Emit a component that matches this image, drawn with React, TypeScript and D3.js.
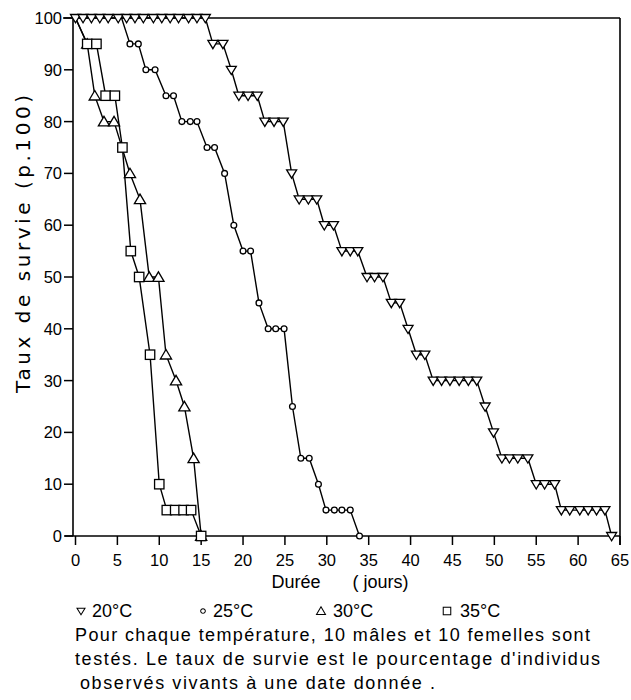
import React from "react";
import * as d3 from "d3";

// ---- data ----
const days20 = [0, 0.9, 1.9, 2.9, 3.9, 5.1, 6.1, 7.1, 8.1, 9.3, 10.3, 11.3, 12.3, 13.5, 14.5, 15.5,
  16.4, 17.6, 18.6, 19.5, 20.6, 21.7, 22.6, 23.7, 24.8, 25.8, 26.7, 27.8, 28.8, 29.7, 30.8,
  31.8, 32.8, 33.7, 34.8, 35.7, 36.7, 37.7, 38.7, 39.7, 40.7, 41.7, 42.7, 43.7, 44.7, 45.8,
  46.9, 47.9, 48.9, 49.9, 50.9, 51.8, 52.8, 54, 55, 56, 57.2, 58, 59, 60.2, 61.2, 62.2, 63.2, 64];
const surv20 = [100, 100, 100, 100, 100, 100, 100, 100, 100, 100, 100, 100, 100, 100, 100, 100,
  95, 95, 90, 85, 85, 85, 80, 80, 80, 70, 65, 65, 65, 60, 60,
  55, 55, 55, 50, 50, 50, 45, 45, 40, 35, 35, 30, 30, 30, 30,
  30, 30, 25, 20, 15, 15, 15, 15, 10, 10, 10, 5, 5, 5, 5, 5, 5, 0];

const days25 = [5.5, 6.5, 7.5, 8.4, 9.5, 10.8, 11.7, 12.7, 13.7, 14.5, 15.7, 16.6, 17.8, 18.9, 20, 20.9,
  21.9, 23, 23.9, 24.9, 25.9, 26.9, 27.9, 29, 29.9, 30.9, 31.8, 32.8, 33.9];
const surv25 = [100, 95, 95, 90, 90, 85, 85, 80, 80, 80, 75, 75, 70, 60, 55, 55,
  45, 40, 40, 40, 25, 15, 15, 10, 5, 5, 5, 5, 0];

const days30 = [0, 1.4, 2.3, 3.4, 4.6, 6.5, 7.7, 8.8, 9.9, 10.8, 12, 13, 14.1, 15];
const surv30 = [100, 95, 85, 80, 80, 70, 65, 50, 50, 35, 30, 25, 15, 0];

const days35 = [0, 1.4, 2.5, 3.6, 4.7, 5.6, 6.6, 7.6, 8.9, 10, 10.9, 11.9, 12.9, 13.8, 15];
const surv35 = [100, 95, 95, 85, 85, 75, 55, 50, 35, 10, 5, 5, 5, 5, 0];

const xTicks = [0, 5, 10, 15, 20, 25, 30, 35, 40, 45, 50, 55, 60, 65];
const yTicks = [0, 10, 20, 30, 40, 50, 60, 70, 80, 90, 100];

const legendLabels = ["20°C", "25°C", "30°C", "35°C"];
const noteLines = [
  "Pour chaque température, 10 mâles et 10 femelles sont",
  "testés.  Le taux de survie est le pourcentage d'individus",
  "observés vivants à une  date  donnée .",
];

// ---- layout ----
const W = 631;
const H = 700;
const FONT = "'Liberation Sans', Arial, sans-serif";

const x = d3.scaleLinear().domain([0, 65]).range([75.5, 620]);
const y = d3.scaleLinear().domain([0, 100]).range([536, 18]);

type Pt = [number, number];
const zip = (a: number[], b: number[]): Pt[] => a.map((d, i) => [d, b[i]]);

const s20 = zip(days20, surv20);
const s25 = zip(days25, surv25);
const s30 = zip(days30, surv30);
const s35 = zip(days35, surv35);

const line = d3.line<Pt>().x((d) => x(d[0])).y((d) => y(d[1]));

const downTri = "M-5,-3.5L5,-3.5L0,4.8Z";
const upTri = "M-5.6,4.3L5.6,4.3L0,-5.2Z";

function Marker({ kind, cx, cy }: { kind: string; cx: number; cy: number }) {
  const st = { fill: "#fff", stroke: "#000", strokeWidth: 1.3 };
  if (kind === "circle") return <circle cx={cx} cy={cy} r={2.9} {...st} />;
  if (kind === "square")
    return <rect x={cx - 4.7} y={cy - 4.7} width={9.4} height={9.4} {...st} />;
  if (kind === "up") return <path d={upTri} transform={`translate(${cx},${cy})`} {...st} />;
  return <path d={downTri} transform={`translate(${cx},${cy})`} {...st} />;
}

export default function App() {
  const series = [
    { data: s25, kind: "circle", skipTop: true },
    { data: s30, kind: "up", skipTop: true },
    { data: s35, kind: "square", skipTop: true },
    { data: s20, kind: "down", skipTop: false },
  ];
  const legendPos = [
    { sx: 81, tx: 92, kind: "down" },
    { sx: 203, tx: 213, kind: "circle" },
    { sx: 321, tx: 333, kind: "up" },
    { sx: 447, tx: 460, kind: "square" },
  ];
  return (
    <svg
      width={W}
      height={H}
      style={{ position: "absolute", left: 0, top: 0, background: "#fff" }}
      fontFamily={FONT}
    >
      <rect width={W} height={H} fill="#fff" />
      {/* frame */}
      <line x1={63} x2={x(65)} y1={y(100)} y2={y(100)} stroke="#000" strokeWidth={1.6} />
      <line x1={x(65)} x2={x(65)} y1={y(100)} y2={y(0) + 9} stroke="#000" strokeWidth={1.6} />
      <line x1={73} x2={73} y1={y(100)} y2={y(0)} stroke="#000" strokeWidth={1.6} />
      <line x1={65} x2={x(65)} y1={y(0)} y2={y(0)} stroke="#000" strokeWidth={1.6} />
      {/* y ticks */}
      {yTicks.map((t) => (
        <g key={"y" + t}>
          <line x1={64} x2={73} y1={y(t)} y2={y(t)} stroke="#000" strokeWidth={1.5} />
          <text x={62} y={y(t) + 6} fontSize={16.5} textAnchor="end">
            {t}
          </text>
        </g>
      ))}
      {/* x ticks */}
      {xTicks.map((t) => (
        <g key={"x" + t}>
          <line x1={x(t)} x2={x(t)} y1={y(0)} y2={y(0) + 9} stroke="#000" strokeWidth={1.5} />
          <text x={x(t)} y={566} fontSize={16.5} textAnchor="middle">
            {t}
          </text>
        </g>
      ))}
      {/* axis titles */}
      <text
        transform="translate(30,244) rotate(-90)"
        fontSize={20}
        fontFamily="'DejaVu Sans', sans-serif"
        textAnchor="middle"
        textLength={298}
        lengthAdjust="spacing"
      >
        Taux de survie  (p.100)
      </text>
      <text x={271.5} y={588} fontSize={18}>
        Durée
      </text>
      <text x={352.5} y={588} fontSize={18}>
        ( jours)
      </text>
      {/* lines */}
      {series.map((s, i) => (
        <path key={"l" + i} d={line(s.data) || ""} fill="none" stroke="#000" strokeWidth={1.4} />
      ))}
      {/* markers */}
      {series.map((s, i) => (
        <g key={"m" + i}>
          {s.data
            .filter((d) => !(s.skipTop && d[1] === 100))
            .map((d, j) => (
              <Marker key={j} kind={s.kind} cx={x(d[0])} cy={y(d[1])} />
            ))}
        </g>
      ))}
      {/* legend */}
      {legendPos.map((p, i) => (
        <g key={"lg" + i}>
          <g transform={`translate(${p.sx},611) scale(0.8)`}>
            <Marker kind={p.kind} cx={0} cy={0} />
          </g>
          <text x={p.tx} y={617} fontSize={18}>
            {legendLabels[i]}
          </text>
        </g>
      ))}
      {/* notes */}
      <text x={75} y={641} fontSize={18} textLength={515} lengthAdjust="spacing">
        {noteLines[0]}
      </text>
      <text x={75} y={665} fontSize={18} textLength={525} lengthAdjust="spacing">
        {noteLines[1]}
      </text>
      <text x={80} y={689} fontSize={18} textLength={355} lengthAdjust="spacing">
        {noteLines[2]}
      </text>
    </svg>
  );
}
